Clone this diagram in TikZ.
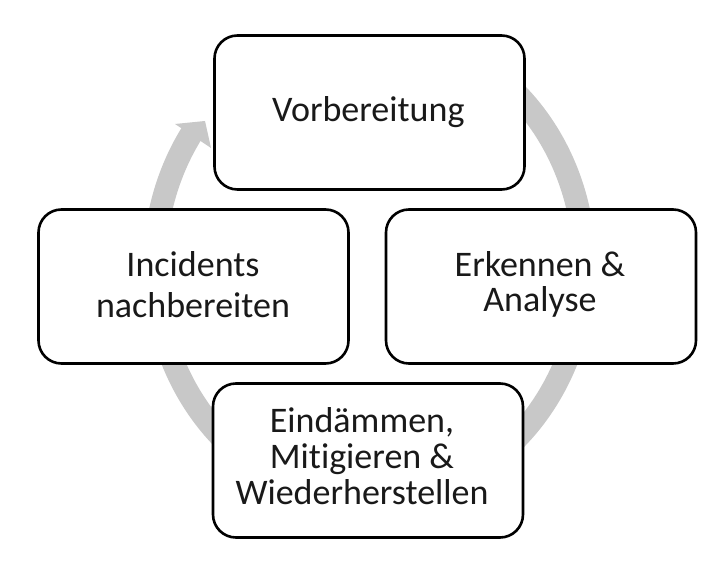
\documentclass[tikz,border=0pt]{standalone}
\usepackage{fontspec}
\setmainfont{Carlito}[Ligatures=NoCommon]
\definecolor{ringgray}{RGB}{200,200,200}
\definecolor{txtcol}{RGB}{25,25,25}
\newcommand\boxlines[1]{\vtop{\halign{\hfil##\hfil\cr#1\crcr}}}
\begin{document}
\begin{tikzpicture}[x=1pt,y=1pt,
  stepbox/.style={draw=black, line width=2.6pt, fill=white, rounded corners=23pt,
    minimum width=310pt, minimum height=154pt, inner sep=0pt},
  txt/.style={inner sep=0pt, anchor=base, text=txtcol},
  ring/.style={draw=ringgray, line width=23pt}]
\useasboundingbox (0,0) rectangle (720,573);
\fill[white] (0,0) rectangle (720,573);
% cycle ring with arrow head
\coordinate (ringstart) at (477,511.4);
\coordinate (headL) at (175,449);
\coordinate (headT) at (205,452);
\coordinate (headR) at (211,425);
\draw[ring] (ringstart) arc[start angle=60, end angle=-214.7, x radius=215, y radius=236];
\fill[ringgray] (headL) -- (headT) -- (headR) -- cycle;
% boxes
\node[stepbox] (vor) at (369.5,460.5) {};
\node[stepbox] (erk) at (541,286.5) {};
\node[stepbox] (ein) at (368,112.5) {};
\node[stepbox] (inc) at (193.5,286.5) {};
% texts
\node[txt, font=\fontsize{36}{41}\selectfont] (tvor) at (368.3,451.3) {Vorbereitung};
\node[txt, font=\fontsize{36}{41}\selectfont] (tinc) at (193,296) {\boxlines{Incidents\cr nachbereiten}};
\node[txt, font=\fontsize{36}{35}\selectfont] (terk) at (540,296.3) {\boxlines{Erkennen \&\cr Analyse}};
\node[txt, font=\fontsize{36}{36}\selectfont] (tein) at (362,140) {\boxlines{Eindämmen,\cr Mitigieren \&\cr Wiederherstellen}};
\end{tikzpicture}
\end{document}
